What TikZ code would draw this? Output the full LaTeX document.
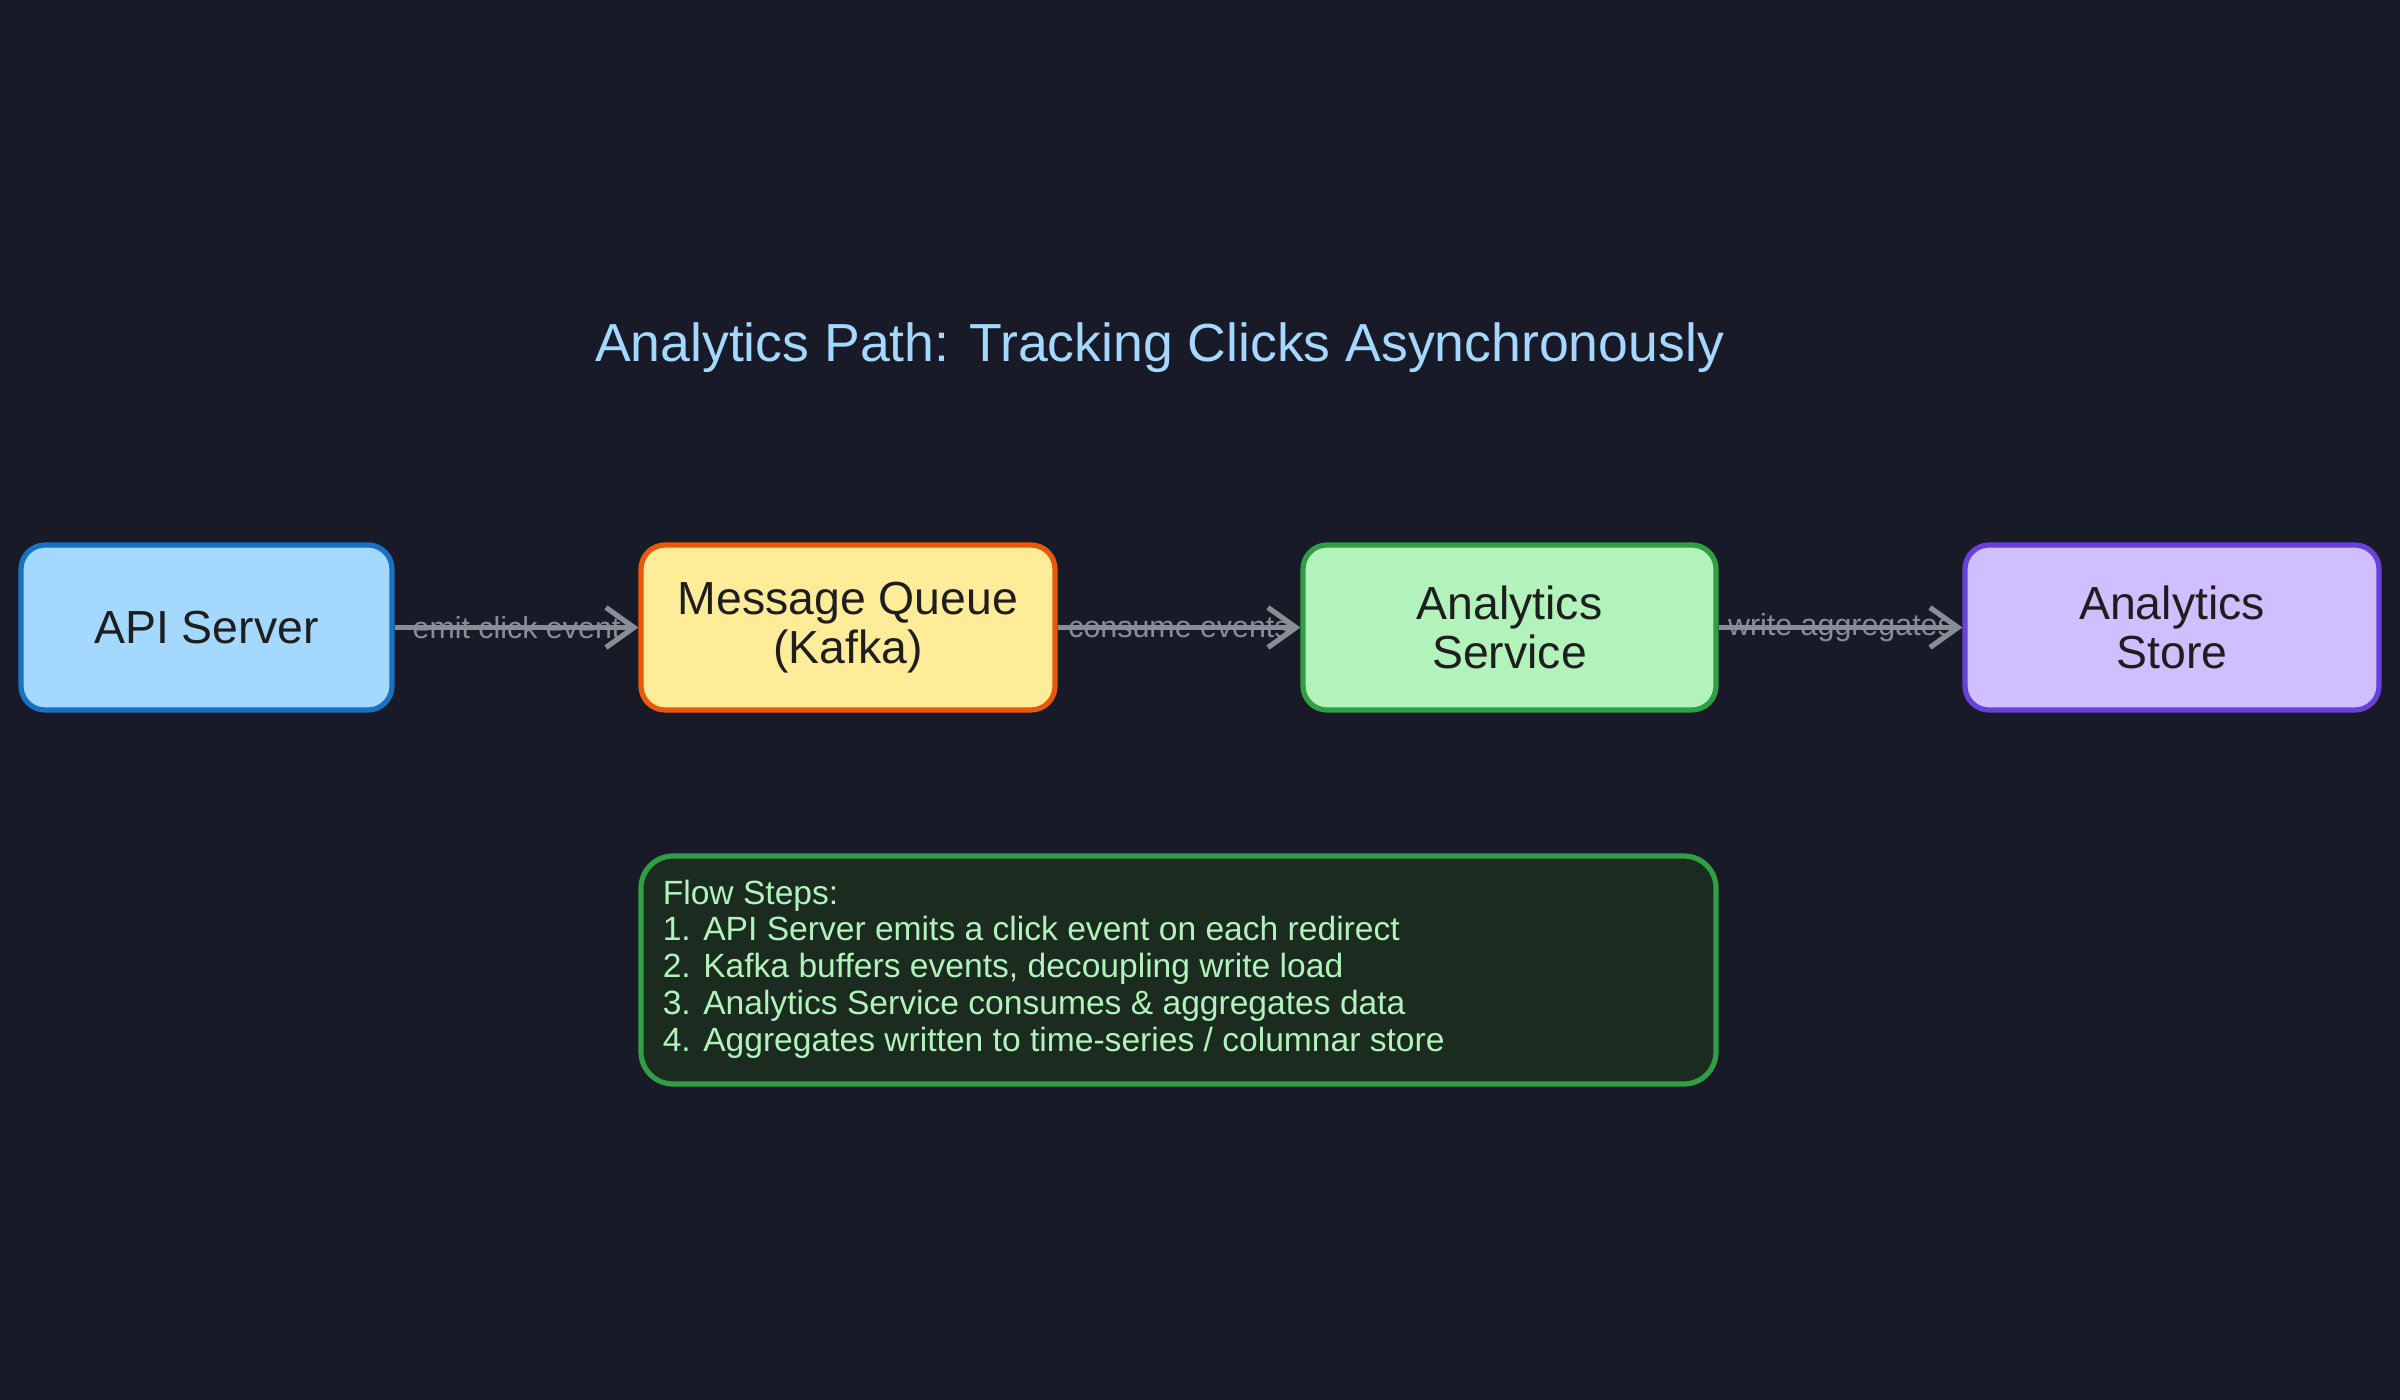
\documentclass[tikz,border=0pt]{standalone}
\usepackage{fontspec}
\setmainfont{Liberation Sans}
\usetikzlibrary{arrows.meta}
\definecolor{bgc}{HTML}{181A28}
\definecolor{ink}{HTML}{1E1E1E}
\definecolor{edgec}{HTML}{868E96}
\definecolor{titlec}{HTML}{A5D8FF}
\definecolor{apif}{HTML}{A5D8FF}
\definecolor{apid}{HTML}{1971C2}
\definecolor{mqf}{HTML}{FFEC99}
\definecolor{mqd}{HTML}{E8590C}
\definecolor{asf}{HTML}{B2F2BB}
\definecolor{asd}{HTML}{2F9E44}
\definecolor{stf}{HTML}{D0BFFF}
\definecolor{std}{HTML}{6741D9}
\definecolor{flowf}{HTML}{1B2B1F}
\definecolor{flowt}{HTML}{B2F2BB}
\pgfdeclarelayer{bg}
\pgfsetlayers{bg,main}
\begin{document}
\begin{tikzpicture}[x=0.25pt,y=-0.25pt,
  box/.style={draw,line width=1.3pt,rounded corners=6pt,minimum height=41.25pt,
    inner sep=0pt,align=center,font=\fontsize{11.6}{12.25}\selectfont,text=ink},
  flowedge/.style={draw=edgec,line width=1.3pt,
    -{Straight Barb[length=7pt,width=10pt,line width=1.3pt]}},
  elabel/.style={font=\fontsize{7.6}{9}\selectfont,text=edgec,inner sep=0pt},
  notebox/.style={draw=asd,fill=flowf,line width=1.3pt,rounded corners=8pt,
    minimum width=268.75pt,minimum height=57pt,inner sep=0pt},
  notetext/.style={font=\fontsize{8.4}{9.19}\selectfont,text=flowt,align=left,inner sep=0pt},
  titlestyle/.style={font=\fontsize{13.4}{16}\selectfont,text=titlec,inner sep=0pt}]

\node[titlestyle] (title) at (1159.5,348) {Analytics Path: Tracking Clicks Asynchronously};

\node[box,fill=apif,draw=apid,minimum width=92.75pt] (api) at (206.5,627.5) {API Server};
\node[box,fill=mqf,draw=mqd,minimum width=103.5pt] (mq) at (848,627.5) {Message Queue\\(Kafka)};
\node[box,fill=asf,draw=asd,minimum width=103.25pt] (as) at (1509.5,627.5) {Analytics\\Service};
\node[box,fill=stf,draw=std,minimum width=103.5pt] (st) at (2172,627.5) {Analytics\\Store};

\node[notebox] (flow) at (1178.5,970) {};
\node[notetext,anchor=west] (steps) at (662,969) {Flow Steps:\\
1. API Server emits a click event on each redirect\\
2. Kafka buffers events, decoupling write load\\
3. Analytics Service consumes \& aggregates data\\
4. Aggregates written to time-series / columnar store};

\begin{pgfonlayer}{bg}
\fill[bgc] (0,0) rectangle (2400,1400);
\path (api.east) -- (mq.west) node[midway,elabel] (l1) {emit click event};
\path (mq.east) -- (as.west) node[midway,elabel] (l2) {consume events};
\path (as.east) -- (st.west) node[midway,elabel] (l3) {write aggregates};
\draw[flowedge] (api.east) -- (mq.west);
\draw[flowedge] (mq.east) -- (as.west);
\draw[flowedge] (as.east) -- (st.west);
\end{pgfonlayer}
\end{tikzpicture}
\end{document}
